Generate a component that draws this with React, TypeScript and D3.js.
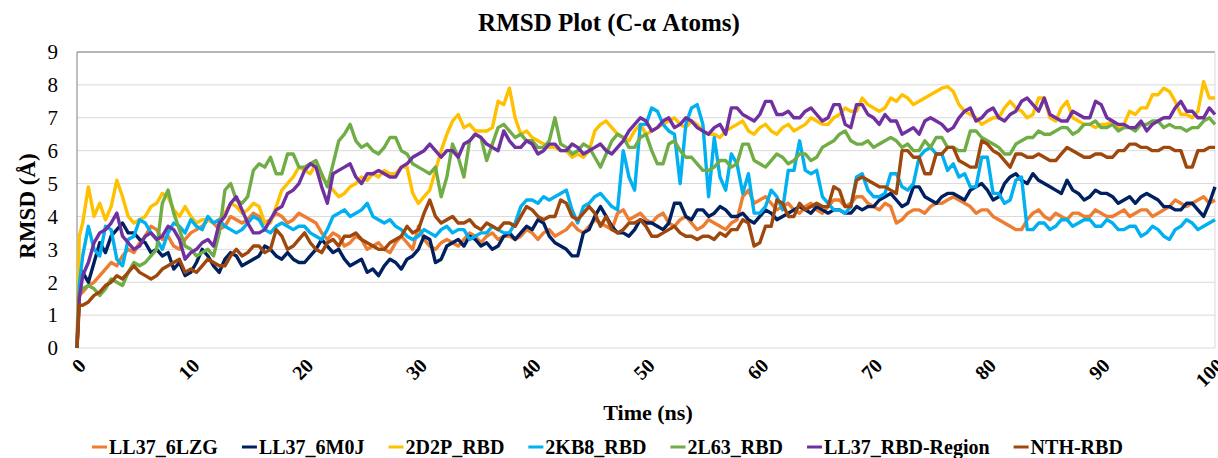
import React from "react";
import * as d3 from "d3";

// RMSD of C-alpha atoms over 100 ns: first frames, then one value per 0.5 ns
const times = [0, 0.2, ...d3.range(0.5, 100.5, 0.5)];

const seriesNames = [
  "LL37_6LZG",
  "LL37_6M0J",
  "2D2P_RBD",
  "2KB8_RBD",
  "2L63_RBD",
  "LL37_RBD-Region",
  "NTH-RBD",
];

const seriesColors = ["#ED7D31", "#002060", "#FFC000", "#00B0F0", "#70AD47", "#7030A0", "#9E480E"];

const ll37_6lzg = [
  0, 1.6,
  1.7, 1.9, 2.0, 2.2, 2.4, 2.6, 2.5, 2.8, 3.0, 2.9,
  3.2, 3.4, 3.7, 3.6, 3.3, 3.4, 3.1, 3.0, 3.3, 3.5,
  3.6, 3.7, 3.9, 3.8, 3.6, 3.7, 4.0, 3.9, 3.8, 3.9,
  4.1, 4.0, 3.8, 3.9, 4.1, 4.0, 3.8, 3.9, 4.1, 4.0,
  3.9, 3.8, 3.5, 3.3, 3.5, 3.4, 3.1, 3.2, 3.4, 3.3,
  3.0, 3.1, 3.2, 3.0, 2.9, 3.2, 3.4, 3.2, 3.0, 3.7,
  3.3, 3.1, 3.0, 3.2, 3.3, 3.2, 3.1, 3.3, 3.5, 3.4,
  3.2, 3.4, 3.5, 3.3, 3.4, 3.4, 3.3, 3.4, 3.6, 3.5,
  3.3, 3.5, 3.6, 3.4, 3.5, 3.6, 3.8, 3.6, 3.5, 3.7,
  3.9, 3.8, 3.7, 3.6, 4.1, 4.2, 3.9, 4.0, 4.1, 3.9,
  3.8, 4.0, 4.1, 3.8, 3.7, 3.9, 4.0, 3.8, 3.6, 3.7,
  3.9, 3.8, 3.7, 3.6, 3.8, 3.9, 4.6, 4.8, 4.4, 4.5,
  4.6, 4.4, 4.2, 4.3, 4.4, 4.2, 4.1, 4.3, 4.4, 4.2,
  4.1, 4.3, 4.5, 4.5, 4.3, 4.4, 4.6, 4.6, 4.4, 4.3,
  4.2, 4.4, 4.3, 3.8, 3.9, 4.1, 4.2, 4.2, 4.1, 4.3,
  4.4, 4.4, 4.5, 4.6, 4.5, 4.4, 4.3, 4.1, 4.2, 4.2,
  4.0, 3.9, 3.8, 3.7, 3.6, 3.6, 3.9, 4.1, 4.2, 4.0,
  3.9, 4.1, 4.0, 3.9, 4.1, 4.1, 4.0, 4.0, 4.2, 4.1,
  4.0, 4.0, 4.1, 4.2, 4.0, 4.1, 4.2, 4.2, 4.0, 4.1,
  4.2, 4.3, 4.5, 4.4, 4.3, 4.4, 4.5, 4.6, 4.4, 4.5,
];

const ll37_6m0j = [
  0, 2.4,
  2.3, 2.0, 2.6, 3.2, 2.9, 3.4, 3.6, 3.8, 3.5, 3.5,
  3.3, 3.2, 2.9, 3.0, 2.8, 2.9, 2.4, 2.6, 2.2, 2.3,
  2.6, 3.0, 2.8, 2.5, 2.3, 2.7, 2.9, 2.8, 2.5, 2.6,
  2.7, 2.8, 3.1, 3.0, 2.8, 2.7, 2.9, 2.7, 2.6, 2.6,
  2.8, 3.0, 3.3, 3.1, 2.9, 3.0, 2.7, 2.5, 2.6, 2.7,
  2.3, 2.4, 2.2, 2.5, 2.7, 2.6, 2.4, 2.7, 2.8, 3.0,
  3.4, 3.3, 2.6, 2.7, 3.1, 3.2, 3.3, 3.1, 3.4, 3.3,
  3.1, 3.2, 3.0, 3.1, 3.4, 3.5, 3.3, 3.5, 3.7, 3.6,
  3.9, 3.8, 3.4, 3.2, 3.1, 3.0, 2.8, 2.8, 3.5, 3.6,
  4.0, 4.3, 4.0, 3.7, 3.5, 3.5, 3.4, 3.6, 3.9, 3.8,
  3.8, 3.7, 3.6, 3.8, 4.4, 4.4, 4.0, 3.9, 4.2, 4.2,
  4.0, 4.1, 4.3, 4.2, 4.0, 4.0, 4.1, 3.9, 3.8, 4.0,
  4.2, 4.1, 3.9, 4.0, 4.1, 4.2, 4.3, 4.2, 4.1, 4.3,
  4.2, 4.1, 4.2, 4.2, 4.1, 4.1, 4.3, 4.2, 4.3, 4.3,
  4.5, 4.6, 4.7, 4.5, 4.3, 4.4, 4.9, 4.9, 4.6, 4.5,
  4.4, 4.6, 4.7, 4.7, 4.6, 4.5, 4.8, 4.9, 5.0, 4.8,
  4.5, 4.6, 5.0, 5.2, 5.3, 5.1, 5.0, 5.3, 5.1, 5.0,
  4.9, 4.8, 4.7, 5.1, 4.8, 4.7, 4.5, 4.6, 4.8, 4.7,
  4.7, 4.6, 4.4, 4.5, 4.6, 4.4, 4.6, 4.7, 4.6, 4.5,
  4.3, 4.3, 4.2, 4.2, 4.4, 4.4, 4.2, 4.0, 4.4, 4.9,
];

const d2p_rbd = [
  0, 3.4,
  3.8, 4.9, 4.0, 4.4, 3.9, 4.3, 5.1, 4.6, 4.0, 3.8,
  3.9, 4.0, 4.3, 4.4, 4.7, 4.6, 4.2, 4.0, 4.3, 4.0,
  3.8, 3.9, 3.9, 3.8, 3.9, 4.1, 4.4, 4.3, 4.1, 4.2,
  4.4, 4.3, 3.8, 3.8, 4.3, 4.8, 5.0, 5.2, 5.5, 5.4,
  5.3, 5.6, 5.2, 5.0, 4.8, 4.6, 4.7, 4.9, 5.0, 5.2,
  5.1, 5.3, 5.2, 5.4, 5.3, 5.3, 5.5, 5.5, 4.7, 4.4,
  4.6, 4.8, 5.4, 6.0, 6.5, 6.9, 7.1, 6.7, 6.8, 6.6,
  6.6, 6.6, 6.7, 7.5, 7.4, 7.9, 7.0, 6.5, 6.6, 6.4,
  6.3, 6.2, 6.1, 6.1, 6.0, 6.0, 5.8, 5.9, 5.8, 6.0,
  6.6, 6.8, 6.9, 6.7, 6.5, 6.4, 6.3, 6.6, 6.8, 6.5,
  6.6, 6.7, 6.8, 6.9, 7.0, 6.8, 6.7, 6.9, 6.8, 6.6,
  6.5, 6.5, 6.4, 6.6, 6.7, 6.8, 6.9, 6.6, 6.5, 6.7,
  6.8, 6.6, 6.5, 6.7, 6.8, 6.6, 6.7, 6.8, 7.0, 6.9,
  6.8, 6.8, 7.0, 7.1, 7.3, 7.2, 7.2, 7.6, 7.4, 7.3,
  7.2, 7.3, 7.6, 7.5, 7.7, 7.6, 7.4, 7.5, 7.6, 7.7,
  7.8, 7.9, 7.95, 7.8, 7.4, 7.2, 7.1, 7.0, 6.8, 6.9,
  7.0, 7.0, 7.3, 7.5, 7.3, 7.2, 7.0, 7.1, 7.6, 7.6,
  7.0, 6.9, 7.3, 7.5, 7.0, 6.9, 6.8, 6.8, 6.7, 6.8,
  6.8, 6.9, 6.7, 6.8, 7.2, 7.1, 7.3, 7.3, 7.7, 7.7,
  7.9, 7.8, 7.5, 7.1, 7.1, 7.0, 7.2, 8.1, 7.6, 7.6,
];

const kb8_rbd = [
  0, 1.9,
  2.8, 3.7, 3.0, 2.8, 3.7, 3.6, 2.7, 2.5, 3.3, 3.4,
  3.9, 3.8, 3.5, 3.3, 3.0, 3.5, 3.8, 3.7, 3.5, 3.9,
  3.7, 3.6, 4.0, 3.8, 3.9, 3.7, 3.6, 3.5, 3.6, 3.8,
  4.0, 3.9, 3.6, 3.5, 3.7, 3.8, 3.7, 3.6, 3.7, 3.7,
  3.5, 3.4, 3.3, 3.6, 4.0, 4.1, 4.2, 4.0, 4.1, 4.2,
  4.4, 4.0, 3.9, 3.8, 3.9, 3.7, 3.6, 3.4, 3.3, 3.4,
  3.6, 3.5, 3.4, 3.6, 3.7, 3.5, 3.6, 3.6, 3.3, 3.4,
  3.5, 3.5, 3.7, 3.6, 3.5, 3.5, 3.8, 4.3, 4.5, 4.5,
  4.4, 4.6, 4.5, 4.6, 4.7, 4.8, 4.2, 3.8, 4.3, 4.4,
  4.6, 4.7, 4.5, 4.3, 4.2, 6.0, 5.2, 4.8, 6.8, 6.8,
  7.3, 7.2, 6.8, 6.6, 6.5, 5.0, 6.8, 7.3, 7.4, 6.8,
  4.6, 6.4, 5.2, 4.8, 5.9, 5.6, 4.7, 5.3, 4.1, 4.1,
  4.3, 4.8, 4.6, 4.2, 5.4, 5.4, 6.3, 5.4, 5.3, 5.4,
  4.6, 4.4, 4.2, 4.2, 4.1, 4.3, 5.2, 5.3, 4.8, 4.6,
  4.6, 4.7, 5.3, 5.3, 4.9, 4.8, 5.0, 5.8, 6.0, 6.1,
  5.9, 5.9, 5.4, 5.6, 5.2, 5.3, 4.9, 4.9, 5.8, 5.8,
  4.7, 4.7, 4.4, 4.5, 5.1, 5.2, 3.6, 3.6, 3.8, 3.8,
  3.6, 3.7, 3.9, 3.9, 3.7, 3.8, 3.9, 3.9, 3.7, 3.7,
  3.9, 3.8, 3.6, 3.6, 3.7, 3.7, 3.4, 3.5, 3.7, 3.6,
  3.4, 3.3, 3.6, 3.7, 3.9, 3.8, 3.6, 3.7, 3.8, 3.9,
];

const l63_rbd = [
  0, 1.7,
  1.8, 1.9, 1.8, 1.6, 1.8, 2.1, 2.0, 1.9, 2.3, 2.6,
  2.5, 2.6, 2.8, 3.0, 4.4, 4.8, 4.1, 3.6, 3.1, 3.0,
  2.8, 2.9, 3.0, 2.8, 3.5, 4.8, 5.0, 4.5, 4.4, 4.6,
  5.4, 5.6, 5.5, 5.8, 5.3, 5.3, 5.9, 5.9, 5.5, 5.5,
  5.6, 5.7, 5.3, 4.9, 5.6, 6.3, 6.5, 6.8, 6.3, 6.1,
  6.2, 6.0, 5.9, 6.1, 6.4, 6.4, 6.0, 5.9, 5.6, 5.5,
  5.4, 5.3, 5.5, 4.6, 5.2, 6.2, 5.8, 5.2, 6.3, 6.5,
  6.4, 5.7, 6.2, 6.7, 6.8, 6.6, 6.4, 6.5, 6.3, 6.3,
  6.1, 6.1, 6.3, 7.0, 6.2, 6.1, 5.9, 6.0, 6.2, 6.1,
  5.8, 5.5, 5.9, 6.3, 6.5, 6.4, 6.1, 6.1, 6.4, 6.5,
  6.0, 5.6, 5.6, 6.2, 6.3, 6.0, 5.8, 5.8, 5.6, 5.4,
  5.4, 5.5, 5.7, 5.7, 5.5, 5.6, 6.2, 6.2, 5.7, 5.6,
  5.5, 5.7, 5.9, 5.8, 5.6, 5.7, 5.9, 5.9, 5.7, 5.8,
  6.1, 6.2, 6.3, 6.5, 6.6, 6.3, 6.2, 6.2, 6.3, 6.1,
  6.2, 6.3, 6.4, 6.3, 6.1, 6.2, 6.0, 6.0, 6.3, 6.1,
  6.4, 6.4, 6.1, 6.1, 6.0, 6.0, 6.6, 6.6, 6.4, 6.3,
  6.2, 6.1, 5.9, 5.9, 6.2, 6.3, 6.4, 6.4, 6.6, 6.5,
  6.5, 6.6, 6.7, 6.7, 6.5, 6.6, 6.8, 6.8, 6.9, 6.7,
  6.7, 6.8, 6.6, 6.7, 6.7, 6.6, 6.8, 6.8, 6.9, 6.9,
  6.7, 6.8, 6.7, 6.7, 6.6, 6.7, 6.7, 6.9, 7.0, 6.8,
];

const ll37_rbd_region = [
  0, 1.5,
  2.2, 2.6, 3.2, 3.5, 3.6, 3.8, 4.1, 3.4, 3.2, 3.0,
  3.1, 3.4, 3.5, 3.3, 3.4, 3.7, 3.6, 3.3, 2.7, 2.9,
  3.0, 3.2, 3.3, 3.1, 3.8, 4.0, 4.4, 4.6, 4.2, 3.8,
  3.5, 3.5, 3.6, 3.9, 4.2, 4.3, 4.7, 4.8, 5.0, 5.4,
  5.6, 5.5, 4.9, 4.4, 5.3, 5.4, 5.5, 5.6, 5.2, 5.0,
  5.3, 5.3, 5.4, 5.3, 5.2, 5.2, 5.5, 5.6, 5.8, 5.9,
  6.0, 6.2, 6.0, 5.8, 6.0, 6.0, 5.8, 6.2, 6.3, 6.5,
  6.4, 6.2, 6.1, 6.0, 6.6, 6.3, 6.1, 6.1, 6.3, 6.2,
  5.9, 6.0, 6.2, 6.2, 6.0, 6.0, 6.2, 6.1, 5.9, 6.0,
  6.1, 6.2, 6.0, 5.9, 6.1, 6.3, 6.6, 6.8, 7.0, 6.9,
  6.6, 6.7, 6.9, 7.0, 6.7, 6.8, 7.0, 6.9, 6.7, 6.6,
  6.5, 6.7, 6.8, 6.5, 7.3, 7.3, 7.1, 7.0, 6.9, 7.1,
  7.5, 7.5, 7.1, 7.1, 7.2, 7.0, 7.0, 7.2, 7.3, 7.1,
  6.9, 7.0, 7.4, 7.4, 6.8, 6.7, 7.4, 7.4, 7.1, 7.0,
  6.8, 7.1, 6.9, 6.9, 6.5, 6.6, 6.7, 6.5, 6.9, 7.0,
  6.9, 6.8, 6.6, 6.7, 7.0, 7.2, 7.3, 6.9, 7.0, 7.2,
  7.3, 7.0, 6.9, 7.1, 7.2, 7.5, 7.6, 7.4, 7.2, 7.6,
  7.1, 7.0, 6.9, 6.9, 7.2, 7.1, 7.0, 7.0, 7.5, 7.4,
  7.0, 6.9, 6.8, 6.8, 6.7, 6.7, 6.9, 6.6, 6.8, 6.9,
  7.0, 7.0, 7.3, 7.5, 7.2, 7.2, 7.0, 7.0, 7.3, 7.1,
];

const nth_rbd = [
  0, 1.3,
  1.3, 1.4, 1.6, 1.7, 1.9, 2.0, 2.2, 2.1, 2.3, 2.5,
  2.3, 2.2, 2.1, 2.2, 2.4, 2.5, 2.6, 2.7, 2.3, 2.4,
  2.3, 2.5, 2.7, 2.6, 2.5, 2.5, 2.8, 3.0, 2.8, 2.9,
  3.1, 3.1, 2.9, 3.0, 3.6, 3.4, 3.0, 3.1, 3.3, 3.5,
  3.2, 3.0, 2.9, 3.2, 3.3, 3.1, 3.4, 3.4, 3.5, 3.3,
  3.2, 3.1, 3.0, 3.0, 3.2, 3.3, 3.4, 3.7, 3.5, 3.6,
  4.1, 4.5, 4.0, 3.8, 3.9, 4.0, 3.8, 3.8, 3.9, 3.7,
  3.6, 3.8, 3.7, 3.6, 3.8, 3.8, 3.7, 4.0, 4.3, 4.2,
  4.0, 3.9, 4.0, 4.0, 4.5, 4.4, 4.0, 3.9, 4.1, 4.3,
  4.1, 3.7, 4.0, 3.6, 3.5, 3.6, 3.8, 3.8, 3.9, 3.7,
  3.4, 3.4, 3.5, 3.6, 3.7, 3.5, 3.4, 3.4, 3.3, 3.4,
  3.4, 3.3, 3.5, 3.4, 3.6, 3.6, 3.9, 3.8, 3.1, 3.2,
  3.7, 3.7, 4.5, 4.4, 4.0, 4.0, 4.4, 4.2, 4.3, 4.4,
  4.3, 4.3, 4.9, 4.8, 4.3, 4.3, 5.1, 5.2, 5.1, 5.0,
  4.9, 4.9, 4.8, 4.7, 6.0, 6.0, 5.8, 5.8, 5.3, 5.3,
  5.9, 5.9, 6.1, 6.1, 5.7, 5.6, 5.5, 5.5, 6.3, 6.2,
  6.0, 5.9, 5.7, 5.5, 5.9, 5.9, 5.8, 5.8, 5.9, 5.8,
  5.7, 5.7, 5.9, 6.1, 6.0, 5.9, 5.8, 5.8, 5.9, 5.9,
  5.8, 5.8, 6.0, 6.0, 6.2, 6.2, 6.1, 6.1, 6.0, 6.0,
  6.1, 6.1, 6.0, 6.0, 5.5, 5.5, 6.0, 6.0, 6.1, 6.1,
];

const seriesValues = [ll37_6lzg, ll37_6m0j, d2p_rbd, kb8_rbd, l63_rbd, ll37_rbd_region, nth_rbd];

const yTicks = [0, 1, 2, 3, 4, 5, 6, 7, 8, 9];
const xTicks = [0, 10, 20, 30, 40, 50, 60, 70, 80, 90, 100];

const W = 1218;
const H = 458;
const FONT = "'Liberation Serif', 'Times New Roman', serif";

// measure legend text so the items sit next to each other
function textWidth(s: string, font: string) {
  const ctx = document.createElement("canvas").getContext("2d");
  if (!ctx) return s.length * 10;
  ctx.font = font;
  return ctx.measureText(s).width;
}

export default function App() {
  const x = d3.scaleLinear().domain([0, 100]).range([77, 1215]);
  const y = d3.scaleLinear().domain([0, 9]).range([348, 52]);

  const line = d3
    .line<number>()
    .x((_, i) => x(times[i]))
    .y((d) => y(d));

  // legend layout
  const legendFont = `bold 20px ${FONT}`;
  let lx = 92;
  const legendItems = seriesNames.map((name, i) => {
    const item = { name, color: seriesColors[i], x: lx };
    lx += 17 + textWidth(name, legendFont) + 24;
    return item;
  });

  return (
    <svg
      width={W}
      height={H}
      style={{ position: "absolute", left: 0, top: 0, background: "#fff" }}
      fontFamily={FONT}
    >
      {/* Title */}
      <text x={W / 2} y={31} textAnchor="middle" fontSize={25} fontWeight="bold" fill="#000">
        RMSD Plot (C-α Atoms)
      </text>

      {/* Gridlines */}
      {yTicks.map((t) => (
        <line key={t} x1={x(0)} x2={x(100)} y1={y(t)} y2={y(t)} stroke="#d9d9d9" strokeWidth={1} />
      ))}

      {/* Plot area border */}
      <line x1={x(0)} x2={x(100)} y1={y(9)} y2={y(9)} stroke="#808080" strokeWidth={1} />
      <line x1={x(0)} x2={x(0)} y1={y(9)} y2={y(0)} stroke="#808080" strokeWidth={1} />
      <line x1={x(100)} x2={x(100)} y1={y(9)} y2={y(0)} stroke="#d9d9d9" strokeWidth={1} />

      {/* Y ticks */}
      {yTicks.map((t) => (
        <text key={t} x={58} y={y(t)} dy="0.35em" textAnchor="end" fontSize={21} fill="#000">
          {t}
        </text>
      ))}

      {/* X ticks */}
      {xTicks.map((t) => (
        <text
          key={t}
          transform={`translate(${x(t) + 5}, ${362}) rotate(-45)`}
          textAnchor="end"
          dy="0.35em"
          fontSize={20}
          fontWeight="bold"
          fill="#000"
        >
          {t}
        </text>
      ))}

      {/* Axis titles */}
      <text
        transform={`translate(35, 206) rotate(-90)`}
        textAnchor="middle"
        fontSize={23}
        fontWeight="bold"
        fill="#000"
      >
        RMSD (Å)
      </text>
      <text x={648} y={420} textAnchor="middle" fontSize={22} fontWeight="bold" fill="#000">
        Time (ns)
      </text>

      {/* Series */}
      {seriesValues.map((vals, i) => (
        <path
          key={seriesNames[i]}
          d={line(vals) ?? ""}
          fill="none"
          stroke={seriesColors[i]}
          strokeWidth={3.4}
          strokeLinejoin="round"
        />
      ))}

      {/* Legend */}
      {legendItems.map((it) => (
        <g key={it.name} transform={`translate(${it.x}, 447)`}>
          <line x1={0} x2={15} y1={0} y2={0} stroke={it.color} strokeWidth={3} />
          <text x={17} y={0} dy="0.35em" fontSize={20} fontWeight="bold" fill="#000">
            {it.name}
          </text>
        </g>
      ))}
    </svg>
  );
}
